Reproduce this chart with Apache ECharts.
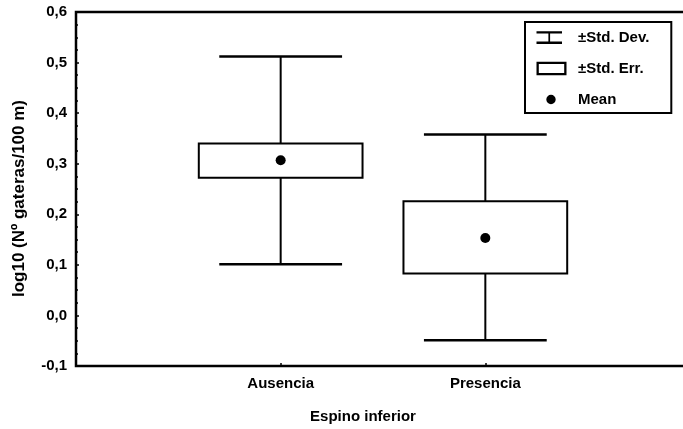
<!DOCTYPE html>
<html>
<head>
<meta charset="utf-8">
<script src="https://cdn.jsdelivr.net/npm/echarts@6/dist/echarts.min.js"></script>
<style>
html,body{margin:0;padding:0;background:#fff;}
#chart{width:683px;height:429px;}
</style>
</head>
<body>
<div id="chart"></div>
<script>
// ---- data ----
var categories = ['Ausencia', 'Presencia'];
var means      = [0.307, 0.153];
var seLow      = [0.272, 0.083];
var seHigh     = [0.340, 0.226];
var sdLow      = [0.101, -0.049];
var sdHigh     = [0.512, 0.358];
var yTickValues = [-0.1, 0.0, 0.1, 0.2, 0.3, 0.4, 0.5, 0.6];
var yTickLabels = ['-0,1', '0,0', '0,1', '0,2', '0,3', '0,4', '0,5', '0,6'];
var seriesNames = ['±Std. Dev.', '±Std. Err.', 'Mean'];
var xTitle = 'Espino inferior';
var yTitle = 'log10 (Nº gateras/100 m)';

var FONT = 'Liberation Sans, Arial, sans-serif';
var chart = echarts.init(document.getElementById('chart'), null, {renderer: 'canvas'});

var sdData = categories.map(function (c, i) { return [i + 1, sdLow[i], sdHigh[i]]; });
var seData = categories.map(function (c, i) { return [i + 1, seLow[i], seHigh[i]]; });
var meanData = categories.map(function (c, i) { return [i + 1, means[i]]; });

// legend icons drawn in a 37x14 box (degenerate corner segments fix the bounding box)
var BB = 'M0 0L0.01 0M37 14L36.99 14';
var whiskerIcon = 'path://' + BB + 'M0.5 0.8H26V3H14.1V11H26V13.4H0.5V11H12.4V3H0.5Z';
var boxIcon = 'path://' + BB + 'M0.5 0.2H30.5V13.8H0.5ZM2.8 2.5V11.5H28.2V2.5Z';
var dotIcon = 'path://' + BB + 'M10.3 7A4.7 4.7 0 1 0 19.7 7A4.7 4.7 0 1 0 10.3 7Z';

var option = {
  animation: false,
  backgroundColor: '#fff',
  grid: {
    left: 76, top: 12, right: -7, bottom: 63,
    show: true, borderColor: '#000', borderWidth: 2.5,
    containLabel: false, outerBoundsMode: 'none'
  },
  legend: {
    orient: 'vertical',
    left: 525, top: 22,
    padding: [8, 22, 6, 11],
    itemWidth: 37, itemHeight: 14, itemGap: 16,
    borderColor: '#000', borderWidth: 2,
    backgroundColor: '#fff',
    selectedMode: false,
    textStyle: {fontFamily: FONT, fontWeight: 'bold', fontSize: 15, color: '#000'},
    data: [
      {name: seriesNames[0], icon: whiskerIcon, itemStyle: {color: '#000', borderWidth: 0, opacity: 1}},
      {name: seriesNames[1], icon: boxIcon, itemStyle: {color: '#000', borderWidth: 0, opacity: 1}},
      {name: seriesNames[2], icon: dotIcon, itemStyle: {color: '#000', borderWidth: 0, opacity: 1}}
    ]
  },
  xAxis: {
    type: 'value', min: 0, max: 3, interval: 1,
    axisLine: {show: false, onZero: false},
    splitLine: {show: false},
    axisTick: {show: true, inside: true, length: 3, lineStyle: {color: '#000', width: 1.5}},
    axisLabel: {
      margin: 10, fontFamily: FONT, fontWeight: 'bold', fontSize: 15, color: '#000',
      formatter: function (v) { return categories[Math.round(v) - 1] || ''; }
    }
  },
  yAxis: {
    type: 'value', min: -0.1, max: 0.6, interval: 0.1,
    axisLine: {show: false, onZero: false},
    splitLine: {show: false},
    axisTick: {show: true, inside: true, length: 3, lineStyle: {color: '#000', width: 1.5}},
    minorTick: {show: true, splitNumber: 4, length: 2, lineStyle: {color: '#000', width: 1.5}},
    axisLabel: {
      margin: 9, fontFamily: FONT, fontWeight: 'bold', fontSize: 15, color: '#000',
      formatter: function (v) {
        for (var k = 0; k < yTickValues.length; k++) {
          if (Math.abs(yTickValues[k] - v) < 1e-6) return yTickLabels[k];
        }
        return '';
      }
    }
  },
  graphic: [
    {
      type: 'text', x: 19, y: 198.5, rotation: Math.PI / 2,
      style: {text: yTitle, fontFamily: FONT, fontWeight: 'bold', fontSize: 17, fill: '#000',
              align: 'center', verticalAlign: 'middle'}
    },
    {
      type: 'text', x: 363, y: 417,
      style: {text: xTitle, fontFamily: FONT, fontWeight: 'bold', fontSize: 15, fill: '#000',
              align: 'center', verticalAlign: 'middle'}
    }
  ],
  series: [
    {
      name: seriesNames[0], type: 'custom', data: sdData,
      itemStyle: {color: '#000'},
      encode: {x: 0, y: [1, 2]},
      renderItem: function (params, api) {
        var x = api.value(0);
        var lo = api.coord([x, api.value(1)]);
        var hi = api.coord([x, api.value(2)]);
        var hw = api.size([0.3, 0])[0];
        var st = {stroke: '#000', fill: null};
        return {
          type: 'group',
          children: [
            {type: 'line', shape: {x1: lo[0], y1: lo[1], x2: hi[0], y2: hi[1]}, style: Object.assign({lineWidth: 2}, st)},
            {type: 'line', shape: {x1: lo[0] - hw, y1: lo[1], x2: lo[0] + hw, y2: lo[1]}, style: Object.assign({lineWidth: 2.5}, st)},
            {type: 'line', shape: {x1: hi[0] - hw, y1: hi[1], x2: hi[0] + hw, y2: hi[1]}, style: Object.assign({lineWidth: 2.5}, st)}
          ]
        };
      }
    },
    {
      name: seriesNames[1], type: 'custom', data: seData,
      itemStyle: {color: '#000'},
      encode: {x: 0, y: [1, 2]},
      renderItem: function (params, api) {
        var x = api.value(0);
        var lo = api.coord([x, api.value(1)]);
        var hi = api.coord([x, api.value(2)]);
        var hw = api.size([0.4, 0])[0];
        return {
          type: 'rect',
          shape: {x: lo[0] - hw, y: hi[1], width: hw * 2, height: lo[1] - hi[1]},
          style: {fill: '#fff', stroke: '#000', lineWidth: 2}
        };
      }
    },
    {
      name: seriesNames[2], type: 'scatter', data: meanData,
      symbol: 'circle', symbolSize: 10,
      itemStyle: {color: '#000', opacity: 1},
      z: 5
    }
  ]
};
chart.setOption(option);
</script>
</body>
</html>
